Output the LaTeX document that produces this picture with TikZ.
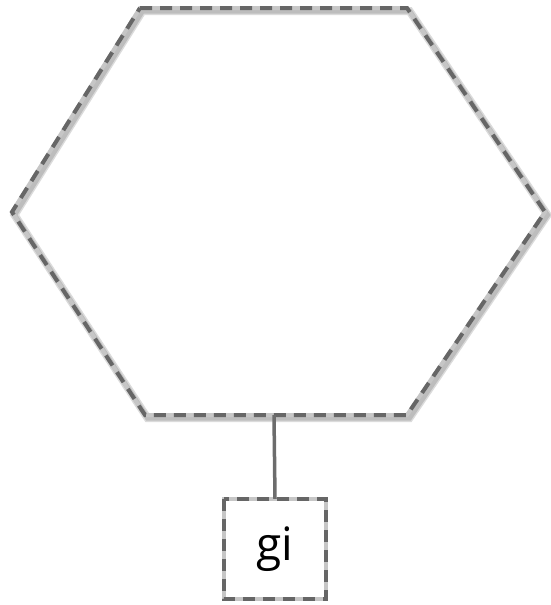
\documentclass[tikz,border=0pt]{standalone}
\usepackage{fontspec}
\setmainfont{Open Sans}
\usetikzlibrary{positioning}

\tikzset{
  edgebase/.style={line width=4pt,gray!45,line join=miter},
  edgedash/.style={line width=4pt,gray!80!black,dash pattern=on 12pt off 8pt,line join=miter},
  edgeshade/.style={line width=8pt,black!14,line join=miter},
  edgeshadein/.style={line width=5pt,black!26,line join=miter},
  stem/.style={line width=3.5pt,gray!85!black}
}

\begin{document}
\begin{tikzpicture}[x=1pt,y=-1pt]
  \useasboundingbox (0,0) rectangle (550,605);

  % hexagon corners
  \coordinate (tl) at (140,8);
  \coordinate (tr) at (407,8);
  \coordinate (rt) at (545,212);
  \coordinate (br) at (407,415);
  \coordinate (bl) at (145,415);
  \coordinate (lt) at (12,212);
  \coordinate (hexbot) at (274,415);

  % soft shadow
  \begin{scope}[transform canvas={shift={(2.5pt,-3pt)}}]
    \draw[edgeshade] (tl) -- (tr) -- (rt) -- (br) -- (bl) -- (lt) -- cycle;
    \draw[edgeshadein] (tl) -- (tr) -- (rt) -- (br) -- (bl) -- (lt) -- cycle;
  \end{scope}
  % hexagon outline
  \draw[edgebase] (tl) -- (tr) -- (rt) -- (br) -- (bl) -- (lt) -- cycle;
  \draw[edgedash] (tl) -- (tr) -- (rt) -- (br) -- (bl) -- (lt) -- cycle;

  % small box
  \node[minimum width=102pt,minimum height=100pt,inner sep=0pt,
        font=\fontsize{46}{50}\selectfont] (gi) at (275,549) {gi};
  \draw[edgebase,line width=3.5pt] (gi.north west) rectangle (gi.south east);
  \draw[edgedash,line width=3.5pt] (gi.north west) rectangle (gi.south east);

  % link
  \draw[stem] (hexbot) -- (gi.north);
\end{tikzpicture}
\end{document}
